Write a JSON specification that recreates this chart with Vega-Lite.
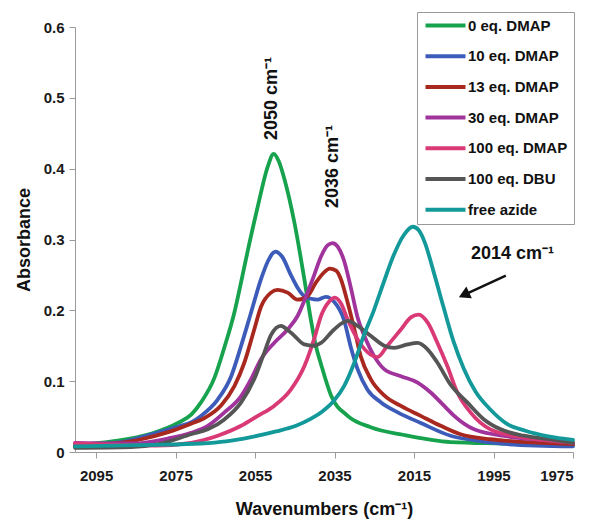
{
  "$schema": "https://vega.github.io/schema/vega-lite/v6.json",
  "width": 498,
  "height": 425,
  "autosize": {"type": "none"},
  "padding": {"left": 75, "top": 27, "right": 19, "bottom": 71},
  "background": "white",
  "config": {
    "view": {"stroke": null},
    "font": "Liberation Sans",
    "axis": {"grid": false, "domainColor": "#9a9a9a", "tickColor": "#9a9a9a", "labelFont": "Liberation Sans", "labelFontWeight": "bold", "labelFontSize": 15, "labelColor": "#1a1a1a", "titleFont": "Liberation Sans", "titleFontWeight": "bold", "titleFontSize": 18, "titleColor": "#111111", "tickSize": 6}
  },
  "datasets": {
    "spectra": [
      {"s":"0 eq. DMAP","w":2100.3,"a":0.010},{"s":"0 eq. DMAP","w":2091,"a":0.015},{"s":"0 eq. DMAP","w":2081,"a":0.026},{"s":"0 eq. DMAP","w":2074.4,"a":0.041},{"s":"0 eq. DMAP","w":2071,"a":0.053},{"s":"0 eq. DMAP","w":2068.6,"a":0.07},{"s":"0 eq. DMAP","w":2065.2,"a":0.105},{"s":"0 eq. DMAP","w":2062.7,"a":0.148},{"s":"0 eq. DMAP","w":2060.2,"a":0.197},{"s":"0 eq. DMAP","w":2058.5,"a":0.24},{"s":"0 eq. DMAP","w":2056.8,"a":0.285},{"s":"0 eq. DMAP","w":2054.3,"a":0.347},{"s":"0 eq. DMAP","w":2051.8,"a":0.403},{"s":"0 eq. DMAP","w":2050.3,"a":0.421},{"s":"0 eq. DMAP","w":2049,"a":0.41},{"s":"0 eq. DMAP","w":2047.6,"a":0.385},{"s":"0 eq. DMAP","w":2045.1,"a":0.324},{"s":"0 eq. DMAP","w":2042.6,"a":0.244},{"s":"0 eq. DMAP","w":2040.9,"a":0.185},{"s":"0 eq. DMAP","w":2039.7,"a":0.15},{"s":"0 eq. DMAP","w":2038.4,"a":0.124},{"s":"0 eq. DMAP","w":2035.9,"a":0.08},{"s":"0 eq. DMAP","w":2031.7,"a":0.051},{"s":"0 eq. DMAP","w":2025.9,"a":0.035},{"s":"0 eq. DMAP","w":2017.5,"a":0.024},{"s":"0 eq. DMAP","w":2005.8,"a":0.014},{"s":"0 eq. DMAP","w":1993,"a":0.012},{"s":"0 eq. DMAP","w":1975,"a":0.010},

      {"s":"10 eq. DMAP","w":2100.3,"a":0.009},{"s":"10 eq. DMAP","w":2088.7,"a":0.014},{"s":"10 eq. DMAP","w":2081,"a":0.025},{"s":"10 eq. DMAP","w":2074.4,"a":0.036},{"s":"10 eq. DMAP","w":2071,"a":0.042},{"s":"10 eq. DMAP","w":2068.6,"a":0.051},{"s":"10 eq. DMAP","w":2064.4,"a":0.074},{"s":"10 eq. DMAP","w":2061,"a":0.107},{"s":"10 eq. DMAP","w":2058.5,"a":0.15},{"s":"10 eq. DMAP","w":2056,"a":0.197},{"s":"10 eq. DMAP","w":2053.5,"a":0.244},{"s":"10 eq. DMAP","w":2051.7,"a":0.27},{"s":"10 eq. DMAP","w":2049.9,"a":0.283},{"s":"10 eq. DMAP","w":2048.2,"a":0.276},{"s":"10 eq. DMAP","w":2046,"a":0.25},{"s":"10 eq. DMAP","w":2044.3,"a":0.232},{"s":"10 eq. DMAP","w":2042.6,"a":0.22},{"s":"10 eq. DMAP","w":2039.3,"a":0.215},{"s":"10 eq. DMAP","w":2037.2,"a":0.219},{"s":"10 eq. DMAP","w":2035.1,"a":0.212},{"s":"10 eq. DMAP","w":2032.6,"a":0.186},{"s":"10 eq. DMAP","w":2030.9,"a":0.148},{"s":"10 eq. DMAP","w":2029.2,"a":0.117},{"s":"10 eq. DMAP","w":2026.7,"a":0.088},{"s":"10 eq. DMAP","w":2023.3,"a":0.07},{"s":"10 eq. DMAP","w":2019.1,"a":0.056},{"s":"10 eq. DMAP","w":2013.3,"a":0.041},{"s":"10 eq. DMAP","w":2005.8,"a":0.023},{"s":"10 eq. DMAP","w":2001.6,"a":0.018},{"s":"10 eq. DMAP","w":1991.5,"a":0.011},{"s":"10 eq. DMAP","w":1975,"a":0.008},

      {"s":"13 eq. DMAP","w":2100.3,"a":0.008},{"s":"13 eq. DMAP","w":2083.6,"a":0.018},{"s":"13 eq. DMAP","w":2076.9,"a":0.028},{"s":"13 eq. DMAP","w":2071.1,"a":0.04},{"s":"13 eq. DMAP","w":2067.7,"a":0.048},{"s":"13 eq. DMAP","w":2063.5,"a":0.066},{"s":"13 eq. DMAP","w":2060.2,"a":0.093},{"s":"13 eq. DMAP","w":2057.7,"a":0.126},{"s":"13 eq. DMAP","w":2055.2,"a":0.173},{"s":"13 eq. DMAP","w":2053.5,"a":0.205},{"s":"13 eq. DMAP","w":2051,"a":0.225},{"s":"13 eq. DMAP","w":2049.3,"a":0.229},{"s":"13 eq. DMAP","w":2046.8,"a":0.225},{"s":"13 eq. DMAP","w":2044.3,"a":0.215},{"s":"13 eq. DMAP","w":2041.8,"a":0.22},{"s":"13 eq. DMAP","w":2039.7,"a":0.239},{"s":"13 eq. DMAP","w":2037.9,"a":0.252},{"s":"13 eq. DMAP","w":2036.2,"a":0.259},{"s":"13 eq. DMAP","w":2034.6,"a":0.256},{"s":"13 eq. DMAP","w":2033.4,"a":0.244},{"s":"13 eq. DMAP","w":2031.7,"a":0.211},{"s":"13 eq. DMAP","w":2030,"a":0.173},{"s":"13 eq. DMAP","w":2028.4,"a":0.135},{"s":"13 eq. DMAP","w":2025.9,"a":0.103},{"s":"13 eq. DMAP","w":2022.5,"a":0.08},{"s":"13 eq. DMAP","w":2018.3,"a":0.065},{"s":"13 eq. DMAP","w":2013.3,"a":0.051},{"s":"13 eq. DMAP","w":2008.3,"a":0.037},{"s":"13 eq. DMAP","w":2003.3,"a":0.025},{"s":"13 eq. DMAP","w":1995.7,"a":0.018},{"s":"13 eq. DMAP","w":1975,"a":0.011},

      {"s":"30 eq. DMAP","w":2100.3,"a":0.013},{"s":"30 eq. DMAP","w":2085.4,"a":0.012},{"s":"30 eq. DMAP","w":2076.9,"a":0.019},{"s":"30 eq. DMAP","w":2071.1,"a":0.027},{"s":"30 eq. DMAP","w":2066.9,"a":0.037},{"s":"30 eq. DMAP","w":2062.7,"a":0.056},{"s":"30 eq. DMAP","w":2058.5,"a":0.079},{"s":"30 eq. DMAP","w":2056,"a":0.103},{"s":"30 eq. DMAP","w":2053.5,"a":0.131},{"s":"30 eq. DMAP","w":2050.2,"a":0.154},{"s":"30 eq. DMAP","w":2046.8,"a":0.173},{"s":"30 eq. DMAP","w":2044.3,"a":0.192},{"s":"30 eq. DMAP","w":2041.8,"a":0.225},{"s":"30 eq. DMAP","w":2040.1,"a":0.25},{"s":"30 eq. DMAP","w":2038.4,"a":0.276},{"s":"30 eq. DMAP","w":2036.7,"a":0.292},{"s":"30 eq. DMAP","w":2035.5,"a":0.295},{"s":"30 eq. DMAP","w":2034.2,"a":0.29},{"s":"30 eq. DMAP","w":2032.6,"a":0.27},{"s":"30 eq. DMAP","w":2030.9,"a":0.232},{"s":"30 eq. DMAP","w":2029.2,"a":0.19},{"s":"30 eq. DMAP","w":2027.5,"a":0.164},{"s":"30 eq. DMAP","w":2025,"a":0.135},{"s":"30 eq. DMAP","w":2022.5,"a":0.117},{"s":"30 eq. DMAP","w":2018.3,"a":0.107},{"s":"30 eq. DMAP","w":2014.1,"a":0.098},{"s":"30 eq. DMAP","w":2010.8,"a":0.084},{"s":"30 eq. DMAP","w":2007.4,"a":0.065},{"s":"30 eq. DMAP","w":2004.9,"a":0.051},{"s":"30 eq. DMAP","w":1999.9,"a":0.032},{"s":"30 eq. DMAP","w":1991.5,"a":0.022},{"s":"30 eq. DMAP","w":1983.2,"a":0.017},{"s":"30 eq. DMAP","w":1975,"a":0.013},

      {"s":"100 eq. DMAP","w":2100.3,"a":0.012},{"s":"100 eq. DMAP","w":2090,"a":0.01},{"s":"100 eq. DMAP","w":2080,"a":0.009},{"s":"100 eq. DMAP","w":2071.1,"a":0.013},{"s":"100 eq. DMAP","w":2064.4,"a":0.023},{"s":"100 eq. DMAP","w":2058.5,"a":0.037},{"s":"100 eq. DMAP","w":2054.3,"a":0.051},{"s":"100 eq. DMAP","w":2050.2,"a":0.065},{"s":"100 eq. DMAP","w":2046,"a":0.088},{"s":"100 eq. DMAP","w":2042.6,"a":0.121},{"s":"100 eq. DMAP","w":2040.1,"a":0.16},{"s":"100 eq. DMAP","w":2038.4,"a":0.192},{"s":"100 eq. DMAP","w":2036.4,"a":0.212},{"s":"100 eq. DMAP","w":2034.9,"a":0.218},{"s":"100 eq. DMAP","w":2033.4,"a":0.21},{"s":"100 eq. DMAP","w":2031.7,"a":0.187},{"s":"100 eq. DMAP","w":2029.2,"a":0.159},{"s":"100 eq. DMAP","w":2026.7,"a":0.141},{"s":"100 eq. DMAP","w":2024.2,"a":0.134},{"s":"100 eq. DMAP","w":2021.7,"a":0.15},{"s":"100 eq. DMAP","w":2018.3,"a":0.173},{"s":"100 eq. DMAP","w":2015.8,"a":0.19},{"s":"100 eq. DMAP","w":2013.8,"a":0.194},{"s":"100 eq. DMAP","w":2011.6,"a":0.183},{"s":"100 eq. DMAP","w":2009.1,"a":0.154},{"s":"100 eq. DMAP","w":2006.6,"a":0.121},{"s":"100 eq. DMAP","w":2004.1,"a":0.084},{"s":"100 eq. DMAP","w":2000.8,"a":0.056},{"s":"100 eq. DMAP","w":1995.8,"a":0.032},{"s":"100 eq. DMAP","w":1989,"a":0.022},{"s":"100 eq. DMAP","w":1980.6,"a":0.016},{"s":"100 eq. DMAP","w":1975,"a":0.013},

      {"s":"100 eq. DBU","w":2100.3,"a":0.006},{"s":"100 eq. DBU","w":2086.2,"a":0.007},{"s":"100 eq. DBU","w":2078.6,"a":0.012},{"s":"100 eq. DBU","w":2071.1,"a":0.025},{"s":"100 eq. DBU","w":2066.9,"a":0.032},{"s":"100 eq. DBU","w":2062.7,"a":0.046},{"s":"100 eq. DBU","w":2058.5,"a":0.07},{"s":"100 eq. DBU","w":2055.2,"a":0.103},{"s":"100 eq. DBU","w":2052.7,"a":0.14},{"s":"100 eq. DBU","w":2051,"a":0.165},{"s":"100 eq. DBU","w":2048.5,"a":0.178},{"s":"100 eq. DBU","w":2046.7,"a":0.172},{"s":"100 eq. DBU","w":2045.1,"a":0.164},{"s":"100 eq. DBU","w":2042.6,"a":0.152},{"s":"100 eq. DBU","w":2040.1,"a":0.15},{"s":"100 eq. DBU","w":2038.4,"a":0.154},{"s":"100 eq. DBU","w":2035.1,"a":0.173},{"s":"100 eq. DBU","w":2031.7,"a":0.185},{"s":"100 eq. DBU","w":2029.2,"a":0.178},{"s":"100 eq. DBU","w":2025.9,"a":0.164},{"s":"100 eq. DBU","w":2022.5,"a":0.15},{"s":"100 eq. DBU","w":2020,"a":0.147},{"s":"100 eq. DBU","w":2016.6,"a":0.152},{"s":"100 eq. DBU","w":2014.1,"a":0.154},{"s":"100 eq. DBU","w":2011.6,"a":0.145},{"s":"100 eq. DBU","w":2009.1,"a":0.126},{"s":"100 eq. DBU","w":2005.8,"a":0.095},{"s":"100 eq. DBU","w":2001.6,"a":0.07},{"s":"100 eq. DBU","w":1997.4,"a":0.046},{"s":"100 eq. DBU","w":1993.2,"a":0.032},{"s":"100 eq. DBU","w":1987.4,"a":0.023},{"s":"100 eq. DBU","w":1980.7,"a":0.018},{"s":"100 eq. DBU","w":1975,"a":0.013},

      {"s":"free azide","w":2100.3,"a":0.008},{"s":"free azide","w":2081.1,"a":0.01},{"s":"free azide","w":2068.6,"a":0.012},{"s":"free azide","w":2062.3,"a":0.015},{"s":"free azide","w":2056,"a":0.021},{"s":"free azide","w":2049.7,"a":0.029},{"s":"free azide","w":2044.7,"a":0.037},{"s":"free azide","w":2040.9,"a":0.047},{"s":"free azide","w":2037.9,"a":0.058},{"s":"free azide","w":2035.2,"a":0.072},{"s":"free azide","w":2032.6,"a":0.093},{"s":"free azide","w":2030.1,"a":0.125},{"s":"free azide","w":2027.6,"a":0.165},{"s":"free azide","w":2025.1,"a":0.2},{"s":"free azide","w":2022.6,"a":0.24},{"s":"free azide","w":2020.1,"a":0.278},{"s":"free azide","w":2017.6,"a":0.306},{"s":"free azide","w":2015.3,"a":0.318},{"s":"free azide","w":2013.8,"a":0.313},{"s":"free azide","w":2012.3,"a":0.296},{"s":"free azide","w":2010.1,"a":0.255},{"s":"free azide","w":2007.6,"a":0.205},{"s":"free azide","w":2005,"a":0.155},{"s":"free azide","w":2002.5,"a":0.118},{"s":"free azide","w":1999.5,"a":0.085},{"s":"free azide","w":1995.8,"a":0.06},{"s":"free azide","w":1991.7,"a":0.04},{"s":"free azide","w":1987,"a":0.03},{"s":"free azide","w":1981.2,"a":0.022},{"s":"free azide","w":1975,"a":0.017}
    ],
    "vlabels": [
      {"t": "2050 cm⁻¹", "w": 2050.7, "a": 0.499},
      {"t": "2036 cm⁻¹", "w": 2035.4, "a": 0.403}
    ],
    "hlabels": [
      {"t": "2014 cm⁻¹", "w": 1990.2, "a": 0.28}
    ],
    "arrow": [
      {"w": 1991.9, "a": 0.249, "w2": 2002.0, "a2": 0.223}
    ]
  },
  "layer": [
    {
      "data": {"name": "spectra"},
      "mark": {"type": "line", "strokeWidth": 3.8, "interpolate": "monotone", "strokeJoin": "round", "strokeCap": "round"},
      "encoding": {
        "x": {"field": "w", "type": "quantitative", "sort": null,
          "scale": {"domain": [1975, 2100.3], "reverse": true, "nice": false, "zero": false},
          "axis": {"values": [2095, 2075, 2055, 2035, 2015, 1995, 1975], "format": "d", "title": "Wavenumbers (cm⁻¹)", "labelPadding": 10, "titlePadding": 17}},
        "y": {"field": "a", "type": "quantitative",
          "scale": {"domain": [0, 0.6], "nice": false},
          "axis": {"values": [0, 0.1, 0.2, 0.3, 0.4, 0.5, 0.6], "format": ".1~f", "title": "Absorbance", "labelPadding": 5, "titlePadding": 10}},
        "color": {"field": "s", "type": "nominal",
          "scale": {"domain": ["0 eq. DMAP", "10 eq. DMAP", "13 eq. DMAP", "30 eq. DMAP", "100 eq. DMAP", "100 eq. DBU", "free azide"],
                    "range": ["#17a34e", "#3d5cb9", "#a8281f", "#a0339c", "#d93a76", "#555555", "#13999a"]},
          "legend": {"orient": "none", "legendX": 342, "legendY": -15, "title": null, "padding": 6,
            "strokeColor": "#9a9a9a", "fillColor": "white",
            "symbolType": "M-1,0H7", "symbolSize": 100, "symbolStrokeWidth": 4,
            "labelFont": "Liberation Sans", "labelFontWeight": "bold", "labelFontSize": 15, "labelColor": "#111111",
            "labelOffset": 30, "rowPadding": 13.7}}
      }
    },
    {
      "data": {"name": "vlabels"},
      "mark": {"type": "text", "angle": 270, "font": "Liberation Sans", "fontWeight": "bold", "fontSize": 18, "color": "#111111", "align": "center", "baseline": "middle"},
      "encoding": {
        "x": {"field": "w", "type": "quantitative"},
        "y": {"field": "a", "type": "quantitative"},
        "text": {"field": "t"}
      }
    },
    {
      "data": {"name": "hlabels"},
      "mark": {"type": "text", "font": "Liberation Sans", "fontWeight": "bold", "fontSize": 18, "color": "#111111", "align": "center", "baseline": "middle"},
      "encoding": {
        "x": {"field": "w", "type": "quantitative"},
        "y": {"field": "a", "type": "quantitative"},
        "text": {"field": "t"}
      }
    },
    {
      "data": {"name": "arrow"},
      "mark": {"type": "rule", "strokeWidth": 2.5, "color": "#111111"},
      "encoding": {
        "x": {"field": "w", "type": "quantitative"},
        "y": {"field": "a", "type": "quantitative"},
        "x2": {"field": "w2"},
        "y2": {"field": "a2"}
      }
    },
    {
      "data": {"name": "arrow"},
      "mark": {"type": "point", "shape": "triangle", "filled": true, "size": 170, "angle": 245, "color": "#111111", "opacity": 1},
      "encoding": {
        "x": {"field": "w2", "type": "quantitative"},
        "y": {"field": "a2", "type": "quantitative"}
      }
    }
  ]
}
